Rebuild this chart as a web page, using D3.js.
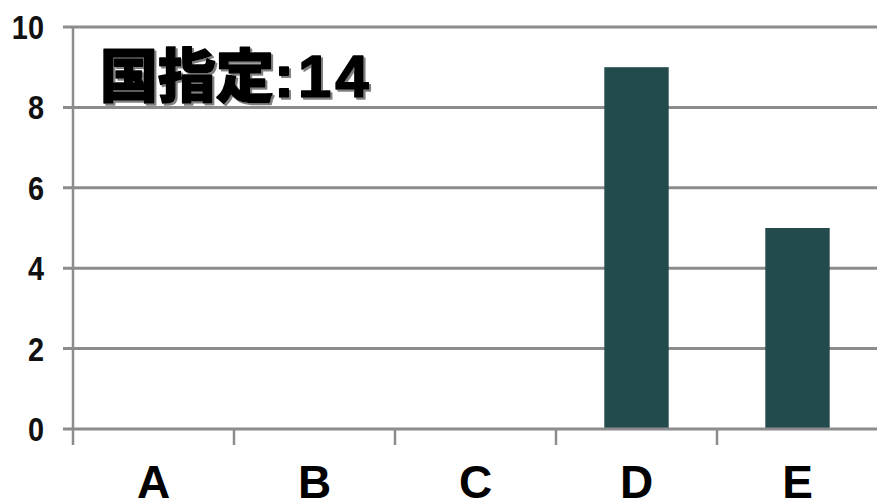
<!DOCTYPE html>
<html>
<head>
<meta charset="utf-8">
<script src="https://cdn.jsdelivr.net/npm/d3@7"></script>
<style>
  html, body { margin: 0; padding: 0; background: #ffffff; }
  svg { display: block; }
</style>
</head>
<body>
<svg id="chart" width="877" height="500"></svg>
<script>
// Category labels and counts
const categories = ["A", "B", "C", "D", "E"];
const counts = [0, 0, 0, 9, 5];
const yTicks = [0, 2, 4, 6, 8, 10];
const titleLabel = "国指定";
const titleCount = ":14";

const W = 877, H = 500;
const plotLeft = 73, plotRight = 878, plotTop = 27, plotBottom = 429;
const gridColor = "#8c8c8c";
const barColor = "#234b4e";

const svg = d3.select("#chart");

// grey drop shadow used by the title
const defs = svg.append("defs");
const shadow = defs.append("filter").attr("id", "titleShadow")
  .attr("x", "-5%").attr("y", "-10%").attr("width", "115%").attr("height", "130%");
shadow.append("feDropShadow")
  .attr("dx", 2).attr("dy", 2).attr("stdDeviation", 0.4)
  .attr("flood-color", "#808080").attr("flood-opacity", 1);

const x = d3.scaleBand().domain(categories).range([plotLeft, plotRight]).padding(0);
const y = d3.scaleLinear().domain([0, 10]).range([plotBottom, plotTop]);

// horizontal gridlines (value lines)
svg.append("g")
  .selectAll("line")
  .data(yTicks.filter(d => d !== 0))
  .join("line")
  .attr("x1", plotLeft - 10)
  .attr("x2", W)
  .attr("y1", d => y(d))
  .attr("y2", d => y(d))
  .attr("stroke", gridColor)
  .attr("stroke-width", 3);

// bars
const bw = x.bandwidth() * 0.4;
svg.append("g")
  .selectAll("rect")
  .data(categories.map((c, i) => ({ c, v: counts[i] })).filter(d => d.v > 0))
  .join("rect")
  .attr("x", d => x(d.c) + (x.bandwidth() - bw) / 2)
  .attr("width", bw)
  .attr("y", d => y(d.v))
  .attr("height", d => y(0) - y(d.v))
  .attr("fill", barColor);

// y axis line
svg.append("line")
  .attr("x1", plotLeft).attr("x2", plotLeft)
  .attr("y1", plotTop).attr("y2", plotBottom + 16)
  .attr("stroke", gridColor).attr("stroke-width", 2.5);

// x axis (baseline with downward ticks at category boundaries)
svg.append("line")
  .attr("x1", plotLeft - 10).attr("x2", W)
  .attr("y1", plotBottom).attr("y2", plotBottom)
  .attr("stroke", gridColor).attr("stroke-width", 3);

svg.append("g")
  .selectAll("line")
  .data(categories.slice(1))
  .join("line")
  .attr("x1", d => x(d)).attr("x2", d => x(d))
  .attr("y1", plotBottom).attr("y2", plotBottom + 16)
  .attr("stroke", gridColor).attr("stroke-width", 2.5);

// y tick labels
svg.append("g")
  .selectAll("text")
  .data(yTicks)
  .join("text")
  .attr("transform", d => `translate(44,${y(d) + 12}) scale(0.85,1)`)
  .attr("text-anchor", "end")
  .attr("font-family", "'Liberation Sans', Arial, sans-serif")
  .attr("font-weight", "bold")
  .attr("font-size", 34)
  .attr("fill", "#111")
  .text(d => d);

// x category labels
svg.append("g")
  .selectAll("text")
  .data(categories)
  .join("text")
  .attr("x", d => x(d) + x.bandwidth() / 2)
  .attr("y", 498)
  .attr("text-anchor", "middle")
  .attr("font-family", "'Liberation Sans', Arial, sans-serif")
  .attr("font-weight", "bold")
  .attr("font-size", 46)
  .attr("fill", "#000")
  .text(d => d);

// title
const title = svg.append("text")
  .attr("x", 100).attr("y", 97)
  .attr("font-family", "'Liberation Sans', 'Noto Sans CJK JP', sans-serif")
  .attr("font-weight", 900)
  .attr("fill", "#000")
  .attr("stroke", "#000")
  .attr("stroke-width", 1.6)
  .attr("stroke-linejoin", "round")
  .attr("filter", "url(#titleShadow)");
title.append("tspan").attr("font-size", 58).text(titleLabel);
title.append("tspan").attr("font-size", 60).attr("letter-spacing", 4).text(titleCount);
</script>
</body>
</html>
